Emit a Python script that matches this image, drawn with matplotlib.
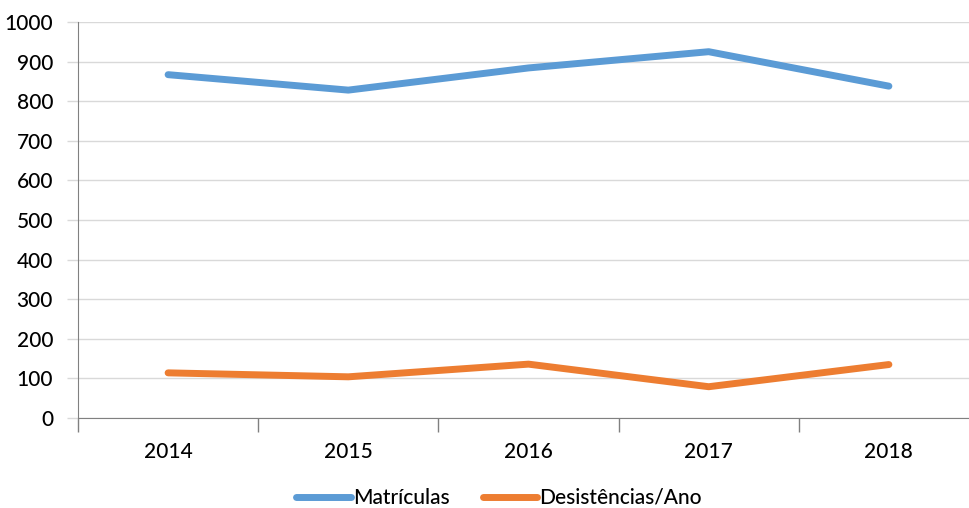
import matplotlib.pyplot as plt
import numpy as np

years = ['2014', '2015', '2016', '2017', '2018']
matriculas = [867, 828, 884, 925, 838]
desistencias = [114, 104, 136, 79, 135]
y_ticks = [0, 100, 200, 300, 400, 500, 600, 700, 800, 900, 1000]

plt.rcParams['font.family'] = ['Lato', 'DejaVu Sans']

fig = plt.figure(figsize=(9.69, 5.08), dpi=100)
# plot area runs a bit past the right edge, as in the cropped original
ax = fig.add_axes([78 / 969, 1 - 418 / 508, 901 / 969, 396 / 508])

x = np.arange(len(years))
ax.plot(x, matriculas, color='#5B9BD5', lw=5, solid_capstyle='round', label='Matrículas')
ax.plot(x, desistencias, color='#ED7D31', lw=5, solid_capstyle='round', label='Desistências/Ano')

ax.set_xlim(-0.5, len(years) - 0.5)
ax.set_ylim(0, 1000)
ax.set_yticks(y_ticks)
ax.set_yticklabels([str(v) for v in y_ticks], fontsize=15, fontweight='medium')
ax.grid(axis='y', color='#D9D9D9', lw=1)
ax.set_axisbelow(True)

# category labels at centres, tick marks at the boundaries
ax.set_xticks(x)
ax.set_xticklabels(years, fontsize=15, fontweight='medium')
ax.set_xticks(np.arange(-0.5, len(years), 1), minor=True)
ax.tick_params(axis='x', which='major', length=0, pad=17)
ax.tick_params(axis='x', which='minor', length=10, color='#808080', width=1)
ax.tick_params(axis='y', length=8, color='#D9D9D9', width=1, pad=10)

for s in ['top', 'right']:
    ax.spines[s].set_visible(False)
ax.spines['left'].set_color('#808080')
ax.spines['bottom'].set_color('#808080')

leg = fig.legend(loc='center', bbox_to_anchor=(0.515, 1 - 498 / 508), ncol=2, frameon=False,
                 fontsize=15, handlelength=2.6, handletextpad=0.1, columnspacing=1.6)
for t in leg.get_texts():
    t.set_fontweight('medium')

fig.savefig('out.png', dpi=100)
